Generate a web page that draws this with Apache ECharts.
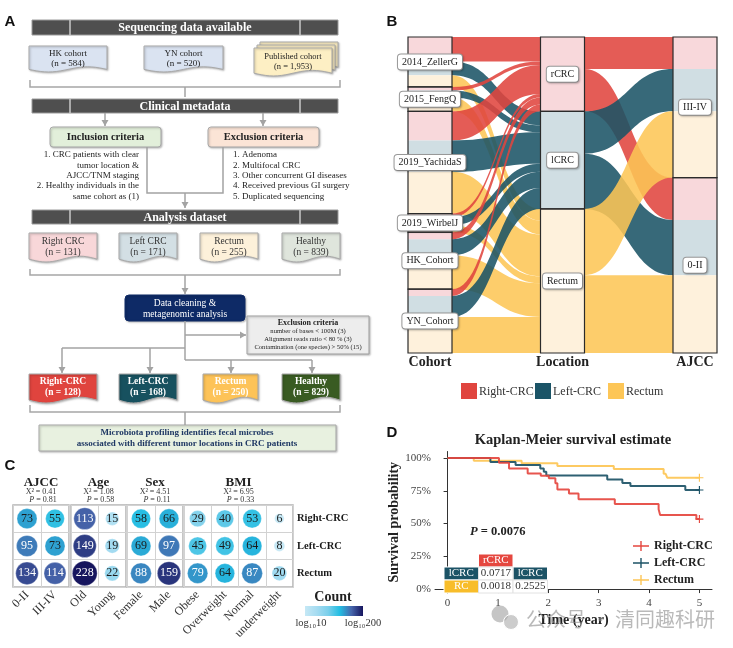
<!DOCTYPE html>
<html><head><meta charset="utf-8">
<script src="https://cdn.jsdelivr.net/npm/echarts@6/dist/echarts.min.js"></script>
<style>html,body{margin:0;padding:0;background:#fff}#c{width:733px;height:648px}</style>
</head><body><div id="c"></div>
<script>
// ================= DATA =================
// Panel A (flowchart texts)
const seqCohorts = ['HK cohort','YN cohort','Published cohort'];
const seqN = ['584','520','1,953'];
const inclusionLines = ['1. CRC patients with clear','tumor location &','AJCC/TNM staging','2. Healthy individuals in the','same cohort as (1)'];
const exclusionLines = ['1. Adenoma','2. Multifocal CRC','3. Other concurrent GI diseases','4. Received previous GI surgery','5. Duplicated sequencing'];
const datasetNames = ['Right CRC','Left CRC','Rectum','Healthy'];
const datasetN = [131,171,255,839];
const qcLines = ['number of bases < 100M (3)','Alignment reads ratio < 80 % (3)','Contamination (one species) > 50% (15)'];
const finalNames = ['Right-CRC','Left-CRC','Rectum','Healthy'];
const finalN = [128,168,250,829];

// Panel B (alluvial)
const cohorts = ['2014_ZellerG','2015_FengQ','2019_YachidaS','2019_WirbelJ','HK_Cohort','YN_Cohort'];
const locations = ['rCRC','lCRC','Rectum'];
const cohortRight  = [42,6,50,6,12,12];
const cohortLeft   = [24,12,54,14,28,36];
const cohortRectum = [20,24,72,12,58,62];
const ajccStages = ['III-IV','0-II'];
const ajccRight  = [55,73];
const ajccLeft   = [73,95];
const ajccRectum = [114,134];
const groupNames = ['Right-CRC','Left-CRC','Rectum'];

// Panel C (bubble table)
const ajccCats = ['0-II','III-IV'];
const ageCats = ['Old','Young'];
const sexCats = ['Female','Male'];
const bmiCats = ['Obese','Overweight','Normal','underweight'];
const ajccCounts = [[73,55],[95,73],[134,114]];
const ageCounts  = [[113,15],[149,19],[228,22]];
const sexCounts  = [[58,66],[69,97],[88,159]];
const bmiCounts  = [[29,40,53,6],[45,49,64,8],[79,64,87,20]];
const clinVars = ['AJCC','Age','Sex','BMI'];
const chiSq = ['0.41','1.08','4.51','6.95'];
const pVals = ['0.81','0.58','0.11','0.33'];

// Panel D (Kaplan-Meier)
const kmRight  = [[0,1],[1.02,0.964],[1.22,0.92],[1.59,0.883],[1.85,0.865],[2.01,0.845],[2.14,0.807],[2.18,0.76],[2.41,0.73],[2.6,0.685],[3.32,0.65],[4.19,0.61],[4.22,0.565],[4.94,0.534],[5.0,0.534]];
const kmLeft   = [[0,1],[0.85,0.97],[1.35,0.947],[1.84,0.92],[1.91,0.895],[1.96,0.867],[3.17,0.837],[3.47,0.81],[3.63,0.786],[4.72,0.756],[5.0,0.756]];
const kmRectum = [[0,1],[0.52,0.98],[1.47,0.96],[2.18,0.94],[3.30,0.916],[4.29,0.88],[4.33,0.865],[4.36,0.85],[5.0,0.85]];
const timeTicks = [0,1,2,3,4,5];
const survTicks = [0,0.25,0.5,0.75,1];
const logRankP = '0.0076';
const pairColHeads = ['rCRC','lCRC'];
const pairRowHeads = ['lCRC','RC'];
const pairP = [['0.0717',null],['0.0018','0.2525']];

// ================= STYLE =================
const SERIF = '"Liberation Serif","Times New Roman",serif';
const SANS = '"Liberation Sans",Arial,sans-serif';
const flowColor = ['#E0453F','#1B5467','#FDC657'];
const lightFill = ['#F8D8DB','#D0DEE3','#FEF1DC'];
const kmColor = ['#E5473F','#1C5366','#FDC555'];
const countColors = ['#C6E8F5','#A6DCF1','#7ACFEB','#22BDE2','#4766AC','#16155E'];
const LOG_MIN = 1, LOG_MAX = Math.log10(200);

const G = [];
function T(x,y,text,o){o=o||{};G.push({type:'text',x:x,y:y,z:o.z||100,silent:true,style:{text:text,fontFamily:o.font||SERIF,fontSize:o.size||9,fontWeight:o.bold?'bold':'normal',fontStyle:o.italic?'italic':'normal',fill:o.color||'#222',textAlign:o.align||'center',textVerticalAlign:'middle',rich:o.rich,opacity:o.opacity==null?1:o.opacity}});}
function R(x,y,w,h,fill,stroke,o){o=o||{};G.push({type:'rect',z:o.z||90,silent:true,shape:{x:x,y:y,width:w,height:h,r:o.r||0},style:{fill:fill,stroke:stroke||null,lineWidth:o.lw||1,shadowBlur:o.sh?2:0,shadowColor:'rgba(0,0,0,0.25)',shadowOffsetX:o.sh?1:0,shadowOffsetY:o.sh?1:0}});}
function PL(pts,color,lw){G.push({type:'polyline',z:90,silent:true,shape:{points:pts},style:{stroke:color||'#a3a3a3',lineWidth:lw||1.5,fill:null}});}
function AR(x1,y1,x2,y2){PL([[x1,y1],[x2,y2]]);const dx=x2-x1,dy=y2-y1,L=Math.hypot(dx,dy),ux=dx/L,uy=dy/L,bx=x2-ux*6,by=y2-uy*6;G.push({type:'polygon',z:91,silent:true,shape:{points:[[x2,y2],[bx-uy*3.5,by+ux*3.5],[bx+uy*3.5,by-ux*3.5]]},style:{fill:'#a3a3a3'}});}
function DOC(x,y,w,h,fill,stroke){const a=h*0.1;const pts=[[x,y],[x+w,y]];for(let i=20;i>=0;i--){const t=i/20;pts.push([x+w*t,y+h-a+a*Math.sin(2*Math.PI*t)]);}G.push({type:'polygon',z:90,silent:true,shape:{points:pts},style:{fill:fill,stroke:stroke||'#a8a8a8',lineWidth:1,shadowBlur:2,shadowColor:'rgba(0,0,0,0.25)',shadowOffsetX:1,shadowOffsetY:1}});}
function BAR(y,h,text){R(32,y,306,h,'#4f4f4f','#9a9a9a');PL([[70,y],[70,y+h]],'#c8c8c8',1.5);PL([[300,y],[300,y+h]],'#c8c8c8',1.5);T(185,y+h/2+0.5,text,{bold:true,size:12,color:'#fff'});}
function BRACE(y,top){PL([[30,top],[30,y],[340,y],[340,top]],'#a6a6a6',1.5);}

// ================= PANEL A =================
T(10,22,'A',{font:SANS,bold:true,size:15,color:'#111'});
BAR(20,15,'Sequencing data available');
const seqX=[29,144,254], seqW=[78,79,78];
DOC(seqX[0],46,seqW[0],26,'#DAE3F1');
DOC(seqX[1],46,seqW[1],26,'#DAE3F1');
DOC(260,42,78,28,'#FDEFC4');DOC(257,45,78,28,'#FDEFC4');DOC(254,48,78,28,'#FDEFC4');
for(let i=0;i<3;i++){const cx=seqX[i]+seqW[i]/2, y0=i===2?57:54;T(cx,y0,seqCohorts[i],{size:i===2?8.5:9});T(cx,y0+9.5,'(n = '+seqN[i]+')',{size:i===2?8.5:9});}
BRACE(87,80);PL([[185,87],[185,97]]);
BAR(99,14,'Clinical metadata');
AR(105,113,105,126);AR(263,113,263,126);
R(50,127,111,20,'#E2EFDA','#a8a8a8',{r:3,sh:true});T(105.5,137.5,'Inclusion criteria',{bold:true,size:10.5});
R(208,127,111,20,'#FBE4D6','#a8a8a8',{r:3,sh:true});T(263.5,137.5,'Exclusion criteria',{bold:true,size:10.5});
const listY=[155,165.5,176,186,196.5];
inclusionLines.forEach((s,i)=>T(139,listY[i],s,{align:'right',size:9}));
exclusionLines.forEach((s,i)=>T(233,listY[i],s,{align:'left',size:9}));
PL([[147,147],[147,193],[223,193],[223,147]]);AR(185,193,185,208);
BAR(210,14,'Analysis dataset');
const dsX=[29,119,200,282], dsW=[68,58,58,58], dsFill=['#F8D7D9','#D3DFE4','#FDF1DA','#DFE5DC'];
datasetNames.forEach((s,i)=>{DOC(dsX[i],233,dsW[i],29,dsFill[i]);T(dsX[i]+dsW[i]/2,241.5,s,{size:9.5,color:'#333'});T(dsX[i]+dsW[i]/2,252.5,'(n = '+datasetN[i]+')',{size:9.5,color:'#333'});});
BRACE(275,269);AR(185,275,185,294);
R(125,295,120,26,'#0E2A66','#0E2A66',{r:4,sh:true});T(185,303,'Data cleaning &',{size:9.5,color:'#fff'});T(185,314,'metagenomic analysis',{size:9.5,color:'#fff'});
PL([[185,321],[185,360]]);AR(185,335,246,335);
R(247,316,122,38,'#EDEDED','#a0a0a0',{sh:true});
T(308,323,'Exclusion criteria',{bold:true,size:8});
qcLines.forEach((s,i)=>T(308,331.5+i*8,s,{size:6.6}));
PL([[62,348],[185,348]]);PL([[185,360],[312,360]]);
AR(62,348,62,373);AR(150,348,150,373);AR(231,360,231,373);AR(312,360,312,373);
const fnX=[29,119,203,282], fnW=[68,58,55,58], fnFill=['#E0443E','#17515F','#FDC358','#395B22'];
finalNames.forEach((s,i)=>{DOC(fnX[i],374,fnW[i],29,fnFill[i]);T(fnX[i]+fnW[i]/2,381.5,s,{bold:true,size:9.5,color:'#fff'});T(fnX[i]+fnW[i]/2,392.5,'(n = '+finalN[i]+')',{bold:true,size:9.5,color:'#fff'});});
BRACE(412,405);PL([[185,412],[185,425]]);
R(39,425,297,26,'#E8F1E0','#a8a8a8',{sh:true});
T(187,432.5,'Microbiota profiling identifies fecal microbes',{bold:true,size:9,color:'#1F3864'});
T(187,444,'associated with different tumor locations in CRC patients',{bold:true,size:9,color:'#1F3864'});

// ================= PANEL B =================
T(392,22,'B',{font:SANS,bold:true,size:15,color:'#111'});
const cohortByLoc=[cohortRight,cohortLeft,cohortRectum];
const ajccByLoc=[ajccRight,ajccLeft,ajccRectum];
const nodesA=[],linksA=[],nodesB=[],linksB=[];
cohorts.forEach((c,i)=>{[0,1,2].forEach(j=>nodesA.push({name:c+'#'+j,itemStyle:{color:lightFill[j]}}));nodesB.push({name:c});});
locations.forEach((l,j)=>{nodesA.push({name:l,itemStyle:{color:lightFill[j]}});nodesB.push({name:l});});
ajccStages.forEach((s,k)=>{[0,1,2].forEach(j=>nodesA.push({name:s+'#'+j,itemStyle:{color:lightFill[j]}}));nodesB.push({name:s});});
cohorts.forEach((c,i)=>[0,1,2].forEach(j=>{linksA.push({source:c+'#'+j,target:locations[j],value:cohortByLoc[j][i],lineStyle:{color:flowColor[j]}});linksB.push({source:c,target:locations[j],value:cohortByLoc[j][i]});}));
locations.forEach((l,j)=>ajccStages.forEach((s,k)=>{linksA.push({source:l,target:s+'#'+j,value:ajccByLoc[j][k],lineStyle:{color:flowColor[j]}});linksB.push({source:l,target:s,value:ajccByLoc[j][k]});}));
const sankeyBox={left:408,top:37,width:309,height:316,nodeWidth:44,nodeGap:0,layoutIterations:0,draggable:false,silent:true,emphasis:{disabled:true}};
T(430,362,'Cohort',{bold:true,size:14});T(562.5,362,'Location',{bold:true,size:14});T(695,362,'AJCC',{bold:true,size:14});
const legBX=[461,535,608];
groupNames.forEach((g,j)=>{R(legBX[j],383,16,16,flowColor[j],null);T(legBX[j]+18,391.5,g,{align:'left',size:12,color:'#333'});});

// ================= PANEL C =================
T(10,466,'C',{font:SANS,bold:true,size:15,color:'#111'});
const cGrids=[{left:13,width:56},{left:71,width:55},{left:127,width:56},{left:184,width:109}];
const cCats=[ajccCats,ageCats,sexCats,bmiCats];
const cCounts=[ajccCounts,ageCounts,sexCounts,bmiCounts];
cGrids.forEach((g,i)=>{const cx=g.left+g.width/2;T(cx,483,clinVars[i],{bold:true,size:13});T(cx,492,'X\u00b2 = '+chiSq[i],{size:8,color:'#333'});T(cx+2,499.5,'{i|P} = '+pVals[i],{size:8,color:'#333',rich:{i:{fontStyle:'italic',fontFamily:SERIF,fontSize:8,fill:'#333'}}});});
T(333,597,'Count',{bold:true,size:14});
R(305,606,58,10,new echarts.graphic.LinearGradient(0,0,1,0,countColors.map((c,i)=>({offset:i/(countColors.length-1),color:c}))),null);
T(311,623,'log\u2081\u208010',{size:10.5,color:'#333'});T(363,623,'log\u2081\u2080200',{size:10.5,color:'#333'});
// colour dimension = log10(count), squished into the colour-bar range (log10 10 .. log10 200)
function bubbleData(counts){const d=[];counts.forEach((row,r)=>row.forEach((v,c)=>d.push({value:[c,r,v,Math.min(LOG_MAX-1e-6,Math.max(LOG_MIN+1e-6,Math.log10(v)))],label:{color:v>75?'#fff':'#1a1a1a'}})));return d;}

// ================= PANEL D =================
T(392,433,'D',{font:SANS,bold:true,size:15,color:'#111'});
T(573,440,'Kaplan-Meier survival estimate',{bold:true,size:14.5});
T(470,532,'{i|P} = '+logRankP,{align:'left',bold:true,size:12.5,rich:{i:{fontStyle:'italic',fontWeight:'bold',fontFamily:SERIF,fontSize:12.5,fill:'#222'}}});
const tblX=[444,478.5,513], tblY=[554,567,580], cw=34.5, ch=13;
R(tblX[1],tblY[0],cw,ch,kmColor[0],'#fff');T(tblX[1]+cw/2,tblY[0]+ch/2,pairColHeads[0],{size:11,color:'#fff'});
R(tblX[2],tblY[1],cw,ch,kmColor[1],'#fff');T(tblX[2]+cw/2,tblY[1]+ch/2,pairColHeads[1],{size:11,color:'#fff'});
R(tblX[0],tblY[1],cw,ch,kmColor[1],'#fff');T(tblX[0]+cw/2,tblY[1]+ch/2,pairRowHeads[0],{size:11,color:'#fff'});
R(tblX[0],tblY[2],cw,ch,'#F8BD2A','#fff');T(tblX[0]+cw/2,tblY[2]+ch/2,pairRowHeads[1],{size:11,color:'#fff'});
pairP.forEach((row,r)=>row.forEach((v,c)=>{if(v){R(tblX[c+1],tblY[r+1],cw,ch,'#fff','#e2e2e2');T(tblX[c+1]+cw/2,tblY[r+1]+ch/2,v,{size:11,color:'#333'});}}));
// watermark
G.push({type:'circle',z:120,silent:true,shape:{cx:500,cy:614,r:8.5},style:{fill:'rgba(150,150,150,0.55)'}});
G.push({type:'circle',z:121,silent:true,shape:{cx:511,cy:622,r:7.5},style:{fill:'rgba(170,170,170,0.6)',stroke:'#fff',lineWidth:1}});
T(526,619,'公众号 · 清同趣科研',{align:'left',size:20,color:'#8a8a8a',opacity:0.6,z:120,font:'"Noto Sans CJK SC",sans-serif'});

const PLUS='path://M4.3,0H5.7V4.3H10V5.7H5.7V10H4.3V5.7H0V4.3H4.3Z';
function kmData(arr){return arr.map((p,i)=>i===arr.length-1?{value:p,symbol:PLUS,symbolSize:8}:{value:p});}

// ================= OPTION =================
const grids=cGrids.map(g=>({left:g.left,width:g.width,top:505,height:82,show:true,borderColor:'#b3b3b3',borderWidth:1.5}));
grids.push({left:435,top:451.5,width:277,height:141.5});
const xAxes=cCats.map((cats,i)=>({type:'category',gridIndex:i,data:cats,axisLine:{show:false},axisTick:{show:false},splitLine:{show:true,interval:0,lineStyle:{color:'#d2d2d2',width:1}},axisLabel:{interval:0,rotate:45,margin:6,fontFamily:SERIF,fontSize:12,color:'#333'}}));
xAxes.push({type:'value',gridIndex:4,min:-0.25,max:5.25,name:'Time (year)',nameLocation:'middle',nameGap:20,nameTextStyle:{fontFamily:SERIF,fontWeight:'bold',fontSize:14,color:'#222'},axisLine:{lineStyle:{color:'#333'}},axisTick:{customValues:timeTicks,length:4,lineStyle:{color:'#333'}},axisLabel:{customValues:timeTicks,fontFamily:SERIF,fontSize:11,color:'#444',margin:5,formatter:v=>Number.isInteger(v)?String(v):''},splitLine:{show:false}});
const yAxes=cCats.map((cats,i)=>({type:'category',gridIndex:i,data:groupNames,inverse:true,position:'right',axisLine:{show:false},axisTick:{show:false},splitLine:{show:true,interval:0,lineStyle:{color:'#d2d2d2',width:1}},axisLabel:{show:i===3,margin:4,fontFamily:SERIF,fontWeight:'bold',fontSize:10.5,color:'#1a1a1a'}}));
yAxes.push({type:'value',gridIndex:4,min:-0.03,max:1.05,name:'Survival probability',nameLocation:'middle',nameGap:31,nameTextStyle:{fontFamily:SERIF,fontWeight:'bold',fontSize:14,color:'#222'},axisLine:{show:true,lineStyle:{color:'#333'}},axisTick:{show:true,customValues:survTicks,length:4,lineStyle:{color:'#333'}},axisLabel:{customValues:survTicks,fontFamily:SERIF,fontSize:11,color:'#444',margin:4,formatter:v=>Math.round(v*100)+'%'},splitLine:{show:false}});

const series=[];
series.push(Object.assign({type:'sankey',z:2,data:nodesA,links:linksA,label:{show:false},itemStyle:{borderWidth:0},lineStyle:{opacity:0.88,curveness:0.5}},sankeyBox));
series.push(Object.assign({type:'sankey',z:3,data:nodesB,links:linksB,itemStyle:{color:'rgba(0,0,0,0)',borderColor:'#2b2b2b',borderWidth:1.2},lineStyle:{opacity:0},label:{show:true,position:'inside',fontFamily:SERIF,fontSize:10,color:'#222',backgroundColor:'#fff',borderColor:'#9a9a9a',borderWidth:1,borderRadius:3,padding:[3,4,2,4],shadowBlur:2,shadowColor:'rgba(0,0,0,0.2)',shadowOffsetX:1,shadowOffsetY:1}},sankeyBox));
cCounts.forEach((counts,i)=>series.push({type:'scatter',xAxisIndex:i,yAxisIndex:i,data:bubbleData(counts),symbolSize:v=>2.2+9.6*Math.log10(v[2]),itemStyle:{opacity:1,borderColor:'rgba(255,255,255,0.5)',borderWidth:0.6},label:{show:true,position:'inside',formatter:p=>String(p.value[2]),fontFamily:SERIF,fontSize:12},silent:true,z:3}));
[kmRight,kmLeft,kmRectum].forEach((km,j)=>series.push({type:'line',name:groupNames[j],xAxisIndex:4,yAxisIndex:4,step:'end',data:kmData(km),showSymbol:true,symbol:'none',lineStyle:{width:2,color:kmColor[j],opacity:0.92},itemStyle:{color:kmColor[j]},silent:true,z:5-j}));

const option={
  animation:false,
  textStyle:{fontFamily:SERIF},
  grid:grids, xAxis:xAxes, yAxis:yAxes,
  visualMap:{type:'continuous',show:false,seriesIndex:[2,3,4,5],dimension:3,min:LOG_MIN,max:LOG_MAX,inRange:{color:countColors},outOfRange:{color:countColors[0]}},
  legend:{data:groupNames,orient:'vertical',left:628,top:535,itemWidth:16,itemHeight:10,itemGap:5,icon:'path://M0,4.2H16V5.8H0Z M7.3,0H8.7V10H7.3Z',selectedMode:false,textStyle:{fontFamily:SERIF,fontWeight:'bold',fontSize:12,color:'#222'}},
  graphic:{elements:G},
  series:series
};
const chart=echarts.init(document.getElementById('c'),null,{renderer:'canvas'});
chart.setOption(option);
</script></body></html>
